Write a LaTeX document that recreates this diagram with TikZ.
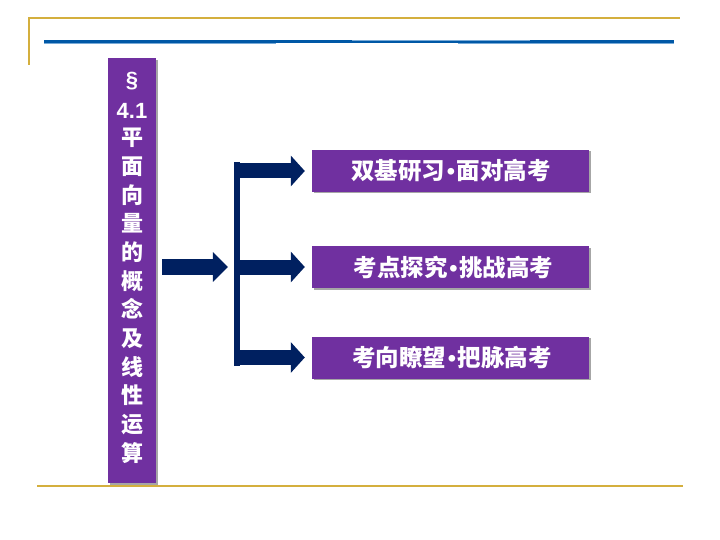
\documentclass[tikz,border=0pt]{standalone}
\usepackage{fontspec}
\setmainfont{Liberation Sans}
\newfontfamily\cjk{Noto Sans CJK SC}
\usetikzlibrary{arrows.meta,shadows,calc}
\definecolor{gold}{RGB}{212,175,62}
\definecolor{blueline}{RGB}{0,88,166}
\definecolor{lightblue}{RGB}{120,170,215}
\definecolor{purp}{RGB}{112,48,160}
\definecolor{navy}{RGB}{0,32,96}
\newcommand{\dotsep}{\kern1.5pt{\fontspec{Liberation Sans}\bfseries •}\kern1.5pt}
\tikzset{
  purplebox/.style={fill=purp, inner sep=0pt,
    drop shadow={shadow xshift=1.5pt, shadow yshift=-1.5pt, fill=black, opacity=0.35}},
  branchbox/.style={purplebox, minimum width=277pt, minimum height=42pt,
    text=white, font=\cjk\bfseries\fontsize{23.5}{26}\selectfont},
  sidechar/.style={text=white, inner sep=0pt, anchor=base, font=\cjk\bfseries\fontsize{22}{26}\selectfont},
  sidelatin/.style={text=white, inner sep=0pt, anchor=base, font=\bfseries\fontsize{22}{26}\selectfont},
  bigarrow/.style={draw=navy, -{Triangle[length=14pt,width=30pt]}, line width=15pt}
}
\begin{document}
\begin{tikzpicture}[x=1pt,y=-1pt]
\useasboundingbox[fill=white] (0,0) rectangle (720,540);
% frame lines
\draw[gold, line width=1.5pt] (29,65) -- (29,18) -- (680,18);
\draw[blueline, line width=3pt] (44,42) -- (674,42);
\draw[lightblue, line width=0.8pt] (44,43.8) -- (276,43.8);
\draw[lightblue, line width=0.8pt] (352,40.2) -- (530,40.2);
\draw[lightblue, line width=0.8pt] (458,43.8) -- (674,43.8);
\draw[gold, line width=1.5pt] (37,486) -- (683,486);
% side box
\node[purplebox, minimum width=48pt, minimum height=425pt, anchor=north west] (side) at (108,58) {};
\node[sidelatin] (s0) at (132,88) {\S};
\node[sidelatin] (s1) at (132,119) {4.1};
\foreach \c [count=\i from 0] in {平,面,向,量,的,概,念,及,线,性,运,算} {
  \node[sidechar] (c\i) at (132,{146+\i*28.65}) {\c};
}
% branch boxes
\node[branchbox] (b1) at (450.5,171) {\hspace{1pt}双基研习\dotsep 面对高考};
\node[branchbox] (b2) at (450.5,267) {\hspace{6pt}考点探究\dotsep 挑战高考};
\node[branchbox] (b3) at (450.5,357.5) {\hspace{3pt}考向瞭望\dotsep 把脉高考};
% bar
\node[fill=navy, minimum width=6pt, minimum height=204pt, inner sep=0pt] (bar) at (237,264) {};
% arrows
\draw[bigarrow, line width=16pt, -{Triangle[length=15pt,width=29pt]}]
  ([xshift=6pt]side.east |- b2) -- ([xshift=-6pt]bar.west |- b2);
\draw[bigarrow] (bar.center |- b1) -- ([xshift=-7pt]b1.west);
\draw[bigarrow] (bar.center |- b2) -- ([xshift=-7pt]b2.west);
\draw[bigarrow] (bar.center |- b3) -- ([xshift=-7pt]b3.west);
\end{tikzpicture}
\end{document}
